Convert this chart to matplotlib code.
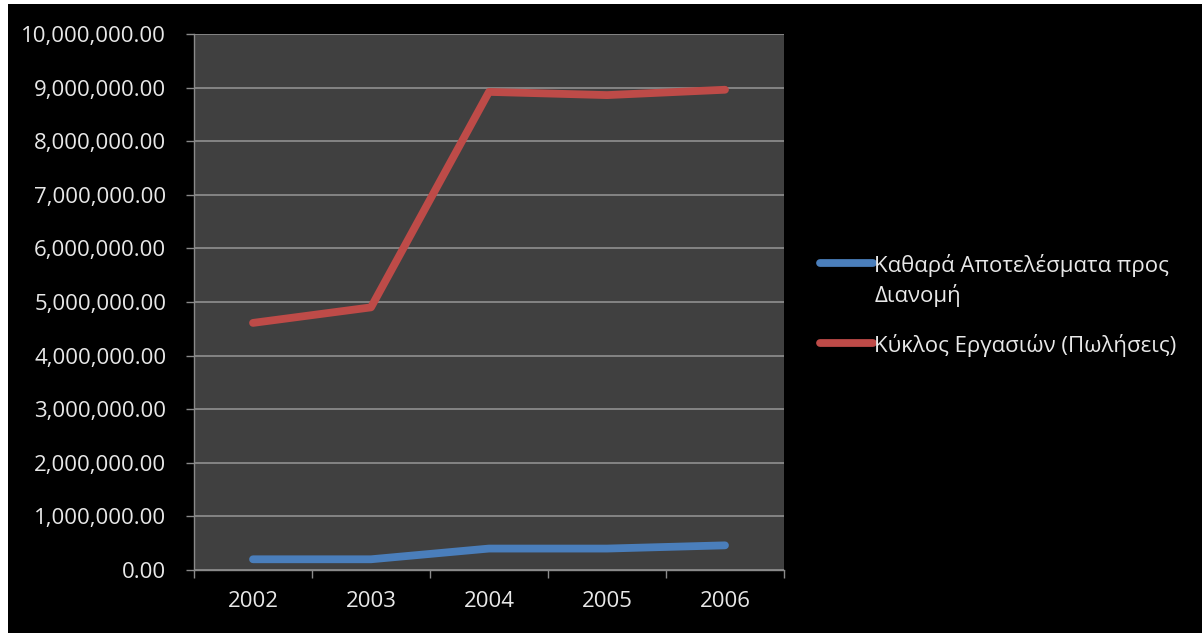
import matplotlib
matplotlib.use("Agg")
import matplotlib.pyplot as plt
from matplotlib.patches import Rectangle
from matplotlib.ticker import FuncFormatter, FixedLocator

# Yearly figures
years = ["2002", "2003", "2004", "2005", "2006"]
net_results = [200000, 200000, 400000, 400000, 460000]
turnover = [4610000, 4900000, 8920000, 8860000, 8960000]
series_labels = ["Καθαρά Αποτελέσματα προς\nΔιανομή", "Κύκλος Εργασιών (Πωλήσεις)"]

BLUE = "#4A7EBB"
RED = "#BE4B48"
TEXT = "#E8E8E8"
GRID = "#8A8A8A"

plt.rcParams["font.family"] = ["Open Sans", "DejaVu Sans"]

fig = plt.figure(figsize=(12.02, 6.33), dpi=100)
fig.patch.set_facecolor("white")
# black chart area with a thin white margin on the left and top
fig.patches.append(Rectangle((8 / 1202, 0), 1, 1 - 4 / 633, transform=fig.transFigure,
                             facecolor="black", edgecolor="none", zorder=-1))

ax = fig.add_axes([194 / 1202, 1 - 570 / 633, 590 / 1202, 536 / 633])
ax.set_facecolor("#404040")

x = list(range(len(years)))
ax.plot(x, net_results, color=BLUE, lw=5.6, solid_capstyle="round", label=series_labels[0])
ax.plot(x, turnover, color=RED, lw=5.6, solid_capstyle="round", label=series_labels[1])

ax.set_xlim(-0.5, len(years) - 0.5)
ax.set_ylim(0, 10000000)
ax.set_yticks(range(0, 10000001, 1000000))
ax.yaxis.set_major_formatter(FuncFormatter(lambda v, _: f"{v:,.2f}"))
ax.grid(axis="y", color=GRID, lw=1.3)
ax.set_axisbelow(True)

# tick marks between categories, labels at the centres
ax.xaxis.set_major_locator(FixedLocator([i - 0.5 for i in range(len(years) + 1)]))
ax.xaxis.set_major_formatter(FuncFormatter(lambda v, _: ""))
ax.set_xticks(x, minor=True)
ax.set_xticklabels(years, minor=True)
ax.tick_params(axis="x", which="major", length=6, width=1, color=GRID)
ax.tick_params(axis="x", which="minor", length=0, pad=15, labelsize=16, labelcolor=TEXT)
ax.tick_params(axis="y", length=6, width=1, color=GRID, pad=14, labelsize=16, labelcolor=TEXT)

for side in ["top", "right"]:
    ax.spines[side].set_visible(False)
for side in ["left", "bottom"]:
    ax.spines[side].set_color(GRID)
    ax.spines[side].set_linewidth(1)

leg = fig.legend(loc="upper left", bbox_to_anchor=(820 / 1202, 1 - 254 / 633),
                 frameon=False, fontsize=16, handlelength=2.4, handleheight=1.1,
                 handletextpad=0.05, labelspacing=1.2, borderaxespad=0, borderpad=0)
for txt in leg.get_texts():
    txt.set_color(TEXT)
    txt.set_linespacing(1.4)
for h in leg.get_lines():
    h.set_solid_capstyle("round")
    h.set_linewidth(5.6)
# keep each handle level with the first line of its label
for col in leg._legend_handle_box.get_children():
    for row in col.get_children():
        row.align = "top"

fig.savefig("out.png", dpi=100, facecolor=fig.get_facecolor())
